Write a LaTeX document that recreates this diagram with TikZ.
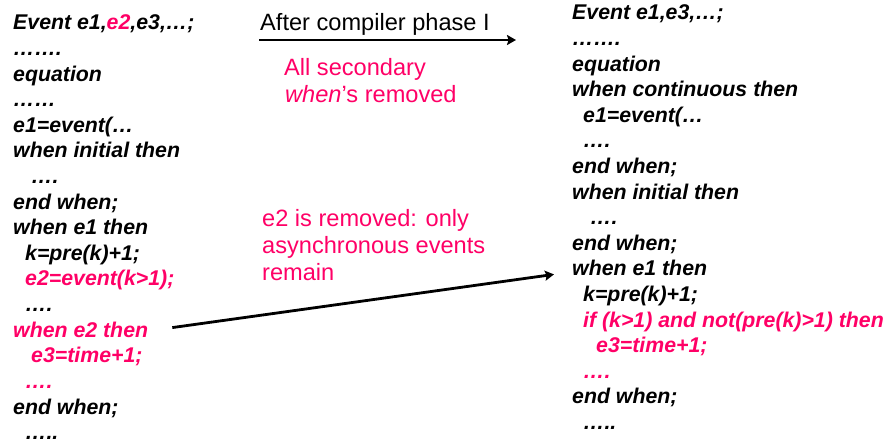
\documentclass[tikz,border=0pt]{standalone}
\usepackage{fontspec}
\setmainfont{Liberation Sans}
\usetikzlibrary{arrows.meta}
\definecolor{hot}{RGB}{255,0,102}
\tikzset{
  code/.style={anchor=base west, inner sep=0pt, font=\fontsize{21.3}{24}\selectfont\bfseries\itshape},
  hotcode/.style={code, text=hot},
  note/.style={anchor=base west, inner sep=0pt, font=\fontsize{23.6}{27}\selectfont},
  hotnote/.style={note, text=hot},
  arr/.style={line width=2.8pt, -{Stealth[length=9pt,width=10pt,inset=1.5pt]}}
}
\begin{document}
\begin{tikzpicture}[x=1pt,y=-1pt]
\useasboundingbox (0,0) rectangle (889,443);
% left column
\node[code] (l1) at (13,30) {Event e1,\textcolor{hot}{e2},e3,…;};
\node[code] (l2) at (13,55.6) {…….};
\node[code] (l3) at (13,81.2) {equation};
\node[code] (l4) at (13,106.8) {……};
\node[code] (l5) at (13,132.4) {e1=event(…};
\node[code] (l6) at (13,158) {when initial then};
\node[code] (l7) at (31,183.6) {….};
\node[code] (l8) at (13,209.2) {end when;};
\node[code] (l9) at (13,234.8) {when e1 then};
\node[code] (l10) at (25,260.4) {k=pre(k)+1;};
\node[hotcode] (l11) at (25,286) {e2=event(k>1);};
\node[code] (l12) at (25,311.6) {….};
\node[hotcode] (l13) at (13,337.2) {when e2 then};
\node[hotcode] (l14) at (31,362.8) {e3=time+1;};
\node[hotcode] (l15) at (25,388.4) {….};
\node[code] (l16) at (13,414) {end when;};
\node[code] (l17) at (25,439.6) {…..};
% right column
\node[code] (r1) at (572,20) {Event e1,e3,…;};
\node[code] (r2) at (572,45.6) {…….};
\node[code] (r3) at (572,71.2) {equation};
\node[code] (r4) at (572,96.8) {when continuous then};
\node[code] (r5) at (583,122.4) {e1=event(…};
\node[code] (r6) at (583,148) {….};
\node[code] (r7) at (572,173.6) {end when;};
\node[code] (r8) at (572,199.2) {when initial then};
\node[code] (r9) at (590,224.8) {….};
\node[code] (r10) at (572,250.4) {end when;};
\node[code] (r11) at (572,276) {when e1 then};
\node[code] (r12) at (583,301.6) {k=pre(k)+1;};
\node[hotcode] (r13) at (583,327.2) {if (k>1) and not(pre(k)>1) then};
\node[hotcode] (r14) at (596,352.8) {e3=time+1;};
\node[hotcode] (r15) at (583,378.4) {….};
\node[code] (r16) at (572,404) {end when;};
\node[code] (r17) at (583,429.6) {…..};
% middle
\node[note] (ph) at (260,31) {After compiler phase I};
\coordinate (pa) at (259,40);
\coordinate (pb) at (516,40);
\draw[arr] (pa) -- (pb);
\node[hotnote] (n1) at (284,76) {All secondary};
\node[hotnote] (n2) at (285,103) {\textit{when}’s removed};
\node[hotnote] (n3) at (262,227) {e2 is removed: only};
\node[hotnote] (n4) at (262,254) {asynchronous events};
\node[hotnote] (n5) at (262,281) {remain};
\draw[arr] ([xshift=24pt,yshift=2pt]l13.east) -- ([xshift=-18pt,yshift=-6pt]r11.west);
\end{tikzpicture}
\end{document}
